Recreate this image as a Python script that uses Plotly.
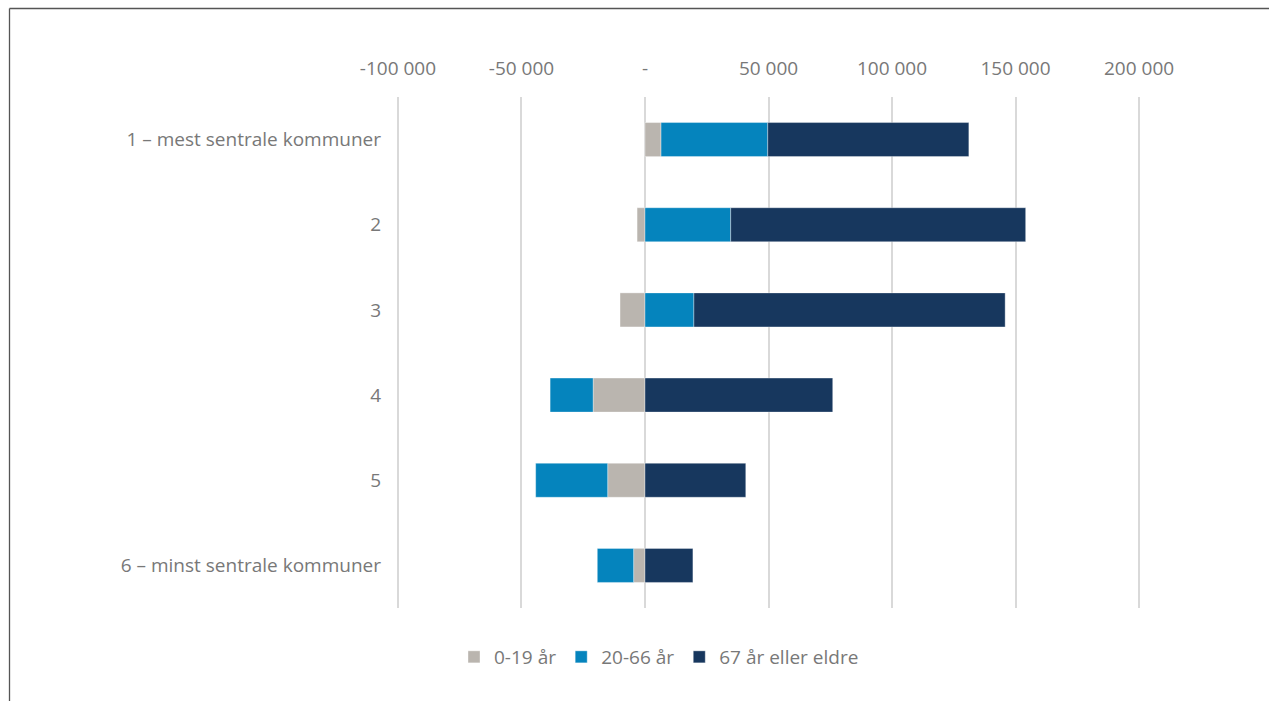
import plotly.graph_objects as go

categories = ["1 – mest sentrale kommuner", "2", "3", "4", "5", "6 – minst sentrale kommuner"]
age_0_19 = [6500, -3200, -10100, -21000, -15100, -4600]
age_20_66 = [43200, 34700, 19800, -17400, -29150, -14700]
age_67_plus = [81400, 119400, 126000, 76000, 40800, 19400]
series_names = ["0-19 år", "20-66 år", "67 år eller eldre"]
series_colors = ["#BAB5AF", "#0584BD", "#17375E"]
tick_vals = [-100000, -50000, 0, 50000, 100000, 150000, 200000]
tick_text = ["-100 000", "-50 000", "-", "50 000", "100 000", "150 000", "200 000"]

FONT = "Open Sans"
TXT = "#787878"
FS = 19

fig = go.Figure()
for name, vals, col in zip(series_names, [age_0_19, age_20_66, age_67_plus], series_colors):
    fig.add_trace(go.Bar(
        y=categories, x=vals, name=name, orientation="h",
        marker=dict(color=col, line=dict(color="rgba(255,255,255,0.6)", width=0.6)),
        width=0.4,
    ))

ml, mr, mt, mb = 393, 125, 97, 93
W, H = 1269, 701
pw, ph = W - ml - mr, H - mt - mb

def px_x(p):
    return (p - ml) / pw

def px_y(p):
    return (H - mb - p) / ph

fig.update_layout(
    width=W, height=H,
    margin=dict(l=ml, r=mr, t=mt, b=mb, pad=0),
    barmode="relative",
    paper_bgcolor="white", plot_bgcolor="white",
    font=dict(family=FONT, size=FS, color=TXT),
    xaxis=dict(
        side="top", range=[-102000, 202000], tickvals=tick_vals, ticktext=tick_text,
        showgrid=True, gridcolor="#D9D9D9", gridwidth=1.5, zeroline=False,
        showline=False, ticks="", ticklabelstandoff=17,
        tickfont=dict(family=FONT, size=FS, color=TXT),
    ),
    yaxis=dict(
        autorange="reversed", showgrid=False, zeroline=False, showline=False,
        ticks="", ticklabelstandoff=11,
        tickfont=dict(family=FONT, size=FS, color=TXT),
    ),
    legend=dict(
        orientation="h", x=px_x(659), y=px_y(657), xanchor="center", yanchor="middle",
        traceorder="normal", font=dict(family=FONT, size=FS, color=TXT),
        itemwidth=30,
    ),
    showlegend=True,
    shapes=[
        dict(type="line", xref="paper", yref="paper", x0=px_x(9.5), x1=px_x(1280),
             y0=px_y(8.5), y1=px_y(8.5), line=dict(color="#555555", width=1.3)),
        dict(type="line", xref="paper", yref="paper", x0=px_x(9.5), x1=px_x(9.5),
             y0=px_y(8.5), y1=px_y(710), line=dict(color="#555555", width=1.3)),
    ],
)

fig.write_html("out.html", config={"displayModeBar": False},
               post_script="document.body.style.margin='0';document.body.style.overflow='hidden';")
